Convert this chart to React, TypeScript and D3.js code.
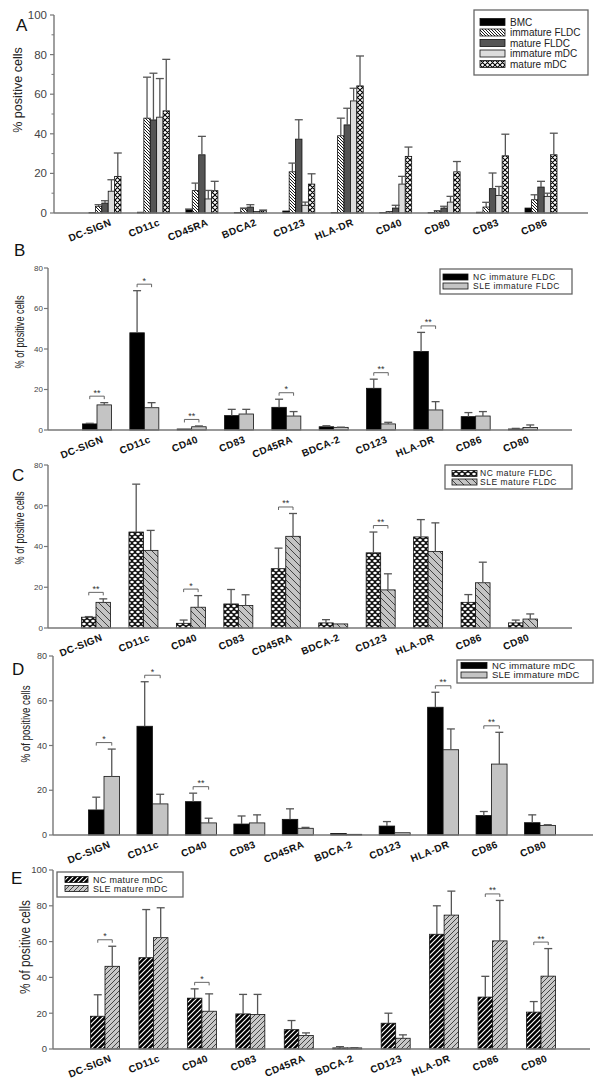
import React from 'react';
import * as d3 from 'd3';

const FONT = '"Liberation Sans", Arial, Helvetica, sans-serif';

// ---------------- Panel A data ----------------
const catsA = ['DC-SIGN', 'CD11c', 'CD45RA', 'BDCA2', 'CD123', 'HLA-DR', 'CD40', 'CD80', 'CD83', 'CD86'];
const seriesNamesA = ['BMC', 'immature FLDC', 'mature FLDC', 'immature mDC', 'mature mDC'];
const bmcMean = [0.3, 0.4, 1.7, 0.3, 1.0, 0.3, 0.3, 0.3, 0.4, 2.5];
const bmcUpper = [0.3, 0.4, 2.0, 0.3, 1.0, 0.3, 0.3, 0.3, 0.4, 2.5];
const immFldcMean = [3.4, 47.9, 11.3, 2.2, 20.8, 39.0, 0.7, 1.0, 3.0, 6.7];
const immFldcUpper = [4.2, 68.6, 15.1, 2.5, 25.2, 47.9, 0.7, 1.2, 5.4, 9.2];
const matFldcMean = [5.0, 47.0, 29.4, 3.0, 37.3, 44.5, 2.5, 2.5, 12.3, 13.1];
const matFldcUpper = [6.2, 70.6, 38.7, 4.2, 47.1, 52.9, 3.9, 3.4, 20.2, 16.0];
const immMdcMean = [11.0, 48.4, 7.1, 0.8, 3.9, 56.6, 14.6, 5.5, 8.9, 8.4];
const immMdcUpper = [16.8, 67.9, 11.4, 0.8, 5.5, 63.0, 18.5, 8.4, 13.4, 10.0];
const matMdcMean = [18.5, 51.6, 11.3, 1.2, 14.6, 64.2, 28.6, 20.8, 28.9, 29.4];
const matMdcUpper = [30.3, 77.6, 16.0, 1.5, 19.8, 79.3, 33.3, 26.0, 39.8, 40.3];

// ---------------- Panels B-E data ----------------
const catsBE = ['DC-SIGN', 'CD11c', 'CD40', 'CD83', 'CD45RA', 'BDCA-2', 'CD123', 'HLA-DR', 'CD86', 'CD80'];

const seriesNamesB = ['NC immature FLDC', 'SLE immature FLDC'];
const bNcMean = [3.0, 48.0, 0.5, 7.1, 11.2, 1.6, 20.6, 38.8, 6.6, 0.5];
const bNcUpper = [3.3, 68.8, 0.5, 10.2, 15.2, 2.1, 25.1, 48.2, 8.6, 0.8];
const bSleMean = [12.4, 11.0, 1.6, 7.9, 6.9, 1.3, 3.0, 9.9, 6.9, 1.2];
const bSleUpper = [13.5, 13.5, 2.0, 10.2, 9.1, 1.4, 3.8, 14.0, 9.1, 2.5];
const bSig = [['DC-SIGN', '**'], ['CD11c', '*'], ['CD40', '**'], ['CD45RA', '*'], ['CD123', '**'], ['HLA-DR', '**']];

const seriesNamesC = ['NC mature FLDC', 'SLE mature FLDC'];
const cNcMean = [5.3, 47.1, 2.3, 11.8, 29.1, 2.5, 36.9, 44.7, 12.6, 2.5];
const cNcUpper = [5.6, 70.6, 3.9, 18.9, 39.2, 4.1, 47.1, 53.2, 16.4, 3.9];
const cSleMean = [12.6, 38.1, 10.2, 11.0, 45.0, 2.0, 18.7, 37.6, 22.2, 4.4];
const cSleUpper = [14.3, 47.9, 15.9, 16.3, 56.2, 2.0, 26.6, 51.6, 32.3, 6.9];
const cSig = [['DC-SIGN', '**'], ['CD40', '*'], ['CD45RA', '**'], ['CD123', '**']];

const seriesNamesD = ['NC immature mDC', 'SLE immature mDC'];
const dNcMean = [11.2, 48.6, 14.9, 4.9, 7.0, 0.7, 4.0, 57.1, 8.7, 5.5];
const dNcUpper = [16.9, 68.5, 18.7, 8.5, 11.7, 0.7, 6.0, 63.8, 10.5, 9.0];
const dSleMean = [26.2, 13.9, 5.4, 5.4, 3.0, 0.3, 1.0, 38.1, 31.7, 4.3];
const dSleUpper = [38.4, 18.2, 7.5, 9.0, 3.4, 0.3, 1.0, 47.4, 45.9, 4.6];
const dSig = [['DC-SIGN', '*'], ['CD11c', '*'], ['CD40', '**'], ['HLA-DR', '**'], ['CD86', '**']];

const seriesNamesE = ['NC mature mDC', 'SLE mature mDC'];
const eNcMean = [18.3, 51.0, 28.4, 19.6, 10.8, 0.6, 14.4, 64.1, 29.0, 20.6];
const eNcUpper = [30.3, 77.9, 33.6, 30.5, 15.9, 1.3, 20.0, 80.0, 40.6, 26.5];
const eSleMean = [46.2, 62.2, 21.1, 19.3, 7.5, 0.6, 6.0, 74.8, 60.4, 40.7];
const eSleUpper = [57.4, 78.9, 30.8, 30.5, 9.0, 0.7, 7.9, 88.2, 83.0, 56.1];
const eSig = [['DC-SIGN', '*'], ['CD40', '*'], ['CD86', '**'], ['CD80', '**']];

const ticks100 = [0, 20, 40, 60, 80, 100];
const ticks80 = [0, 20, 40, 60, 80];

type Series = { name: string; mean: number[]; upper: number[]; fill: string };

type PanelCfg = {
  letter: string;
  letterX: number;
  letterY: number;
  cats: string[];
  series: Series[];
  yMax: number;
  ticks: number[];
  minor?: boolean;
  y0: number;
  yTop: number;
  axisX: number;
  axisEnd: number;
  c0: number;
  c1: number;
  groupW: number;
  capW: number;
  ylabel: string;
  ylabelX: number;
  ylabelY: number;
  ylabelSize: number;
  ylabelLen?: number;
  tickFont: number;
  tickGap: number;
  sig: string[][];
  legend: { x: number; y: number; w: number; h: number; sx: number; sw: number; sh: number; tx: number; row0: number; rowStep: number; font: number; ls: number };
};

function Panel({ cfg }: { cfg: PanelCfg }) {
  const y = d3.scaleLinear().domain([0, cfg.yMax]).range([cfg.y0, cfg.yTop]);
  const x = d3.scalePoint<string>().domain(cfg.cats).range([cfg.c0, cfg.c1]);
  const sub = d3
    .scaleBand<string>()
    .domain(cfg.series.map((s) => s.name))
    .range([-cfg.groupW / 2, cfg.groupW / 2]);
  const bw = sub.bandwidth();
  const minorTicks = cfg.minor ? d3.range(0, cfg.yMax + 0.01, 10).filter((v) => v % 20 !== 0) : [];

  return (
    <g>
      <text x={cfg.letterX} y={cfg.letterY} fontSize={17} fontFamily={FONT} fill="#111">
        {cfg.letter}
      </text>
      {/* bars */}
      {cfg.series.map((s) =>
        cfg.cats.map((c, i) => {
          const bx = (x(c) as number) + (sub(s.name) as number);
          const top = y(s.mean[i]);
          return (
            <rect
              key={s.name + c}
              x={bx}
              y={top}
              width={bw}
              height={Math.max(0.6, cfg.y0 - top)}
              fill={s.fill}
              stroke="#111"
              strokeWidth={0.8}
            />
          );
        })
      )}
      {/* error bars */}
      {cfg.series.map((s) =>
        cfg.cats.map((c, i) => {
          if (s.upper[i] - s.mean[i] < 0.05) return null;
          const cx = (x(c) as number) + (sub(s.name) as number) + bw / 2;
          const t = y(s.upper[i]);
          return (
            <g key={'e' + s.name + c} stroke="#555" strokeWidth={1.3}>
              <line x1={cx} x2={cx} y1={y(s.mean[i])} y2={t} />
              <line x1={cx - cfg.capW / 2} x2={cx + cfg.capW / 2} y1={t} y2={t} />
            </g>
          );
        })
      )}
      {/* significance brackets */}
      {cfg.sig.map(([c, label]) => {
        const i = cfg.cats.indexOf(c);
        const s0 = cfg.series[0];
        const s1 = cfg.series[1];
        const x1 = (x(c) as number) + (sub(s0.name) as number) + bw / 2;
        const x2 = (x(c) as number) + (sub(s1.name) as number) + bw / 2;
        const by = y(Math.max(s0.upper[i], s1.upper[i])) - 6.5;
        return (
          <g key={'s' + c}>
            <path d={`M${x1},${by + 3}V${by}H${x2}V${by + 3}`} fill="none" stroke="#555" strokeWidth={0.9} />
            <text x={(x1 + x2) / 2} y={by - 0.5} fontSize={9} fontFamily={FONT} textAnchor="middle" fill="#333">
              {label}
            </text>
          </g>
        );
      })}
      {/* axes */}
      <line x1={cfg.axisX} x2={cfg.axisEnd} y1={cfg.y0} y2={cfg.y0} stroke="#777" strokeWidth={1.4} />
      <line x1={cfg.axisX} x2={cfg.axisX} y1={cfg.y0} y2={cfg.yTop} stroke="#777" strokeWidth={1.4} />
      {cfg.ticks.map((t) => (
        <g key={'t' + t}>
          <line x1={cfg.axisX - 4} x2={cfg.axisX} y1={y(t)} y2={y(t)} stroke="#777" strokeWidth={1.2} />
          <text
            x={cfg.axisX - cfg.tickGap}
            y={y(t)}
            dy="0.35em"
            fontSize={cfg.tickFont}
            fontFamily={FONT}
            textAnchor="end"
            fill="#444"
          >
            {t}
          </text>
        </g>
      ))}
      {minorTicks.map((t) => (
        <line key={'m' + t} x1={cfg.axisX - 2.5} x2={cfg.axisX} y1={y(t)} y2={y(t)} stroke="#777" strokeWidth={1} />
      ))}
      <text
        transform={`translate(${cfg.ylabelX},${cfg.ylabelY}) rotate(-90)`}
        fontSize={cfg.ylabelSize}
        fontFamily={FONT}
        textAnchor="middle"
        dominantBaseline="central"
        fill="#222"
        textLength={cfg.ylabelLen}
        lengthAdjust={cfg.ylabelLen ? 'spacingAndGlyphs' : undefined}
      >
        {cfg.ylabel}
      </text>
      {/* category labels */}
      {cfg.cats.map((c) => (
        <text
          key={'l' + c}
          transform={`translate(${(x(c) as number) + 7},${cfg.y0 + 12}) rotate(-22)`}
          fontSize={10}
          fontWeight="bold"
          fontFamily={FONT}
          textAnchor="end"
          letterSpacing={0.4}
          fill="#111"
        >
          {c}
        </text>
      ))}
      {/* legend */}
      <rect
        x={cfg.legend.x}
        y={cfg.legend.y}
        width={cfg.legend.w}
        height={cfg.legend.h}
        fill="#fff"
        stroke="#666"
        strokeWidth={1.3}
      />
      {cfg.series.map((s, i) => {
        const ry = cfg.legend.row0 + i * cfg.legend.rowStep;
        return (
          <g key={'lg' + s.name}>
            <rect
              x={cfg.legend.sx}
              y={ry - cfg.legend.sh / 2}
              width={cfg.legend.sw}
              height={cfg.legend.sh}
              fill={s.fill}
              stroke="#111"
              strokeWidth={0.8}
            />
            <text
              x={cfg.legend.tx}
              y={ry}
              dy="0.35em"
              fontSize={cfg.legend.font}
              fontFamily={FONT}
              letterSpacing={cfg.legend.ls}
              fill="#222"
            >
              {s.name}
            </text>
          </g>
        );
      })}
    </g>
  );
}

export default function App() {
  const panelA: PanelCfg = {
    letter: 'A', letterX: 16, letterY: 31,
    cats: catsA,
    series: [
      { name: seriesNamesA[0], mean: bmcMean, upper: bmcUpper, fill: '#000' },
      { name: seriesNamesA[1], mean: immFldcMean, upper: immFldcUpper, fill: 'url(#hatchDense)' },
      { name: seriesNamesA[2], mean: matFldcMean, upper: matFldcUpper, fill: '#555' },
      { name: seriesNamesA[3], mean: immMdcMean, upper: immMdcUpper, fill: '#dcdcdc' },
      { name: seriesNamesA[4], mean: matMdcMean, upper: matMdcUpper, fill: 'url(#xhatchA)' },
    ],
    yMax: 100, ticks: ticks100, minor: true, y0: 213, yTop: 15, axisX: 54, axisEnd: 588,
    c0: 105, c1: 541, groupW: 32, capW: 8,
    ylabel: '% positive cells', ylabelX: 18, ylabelY: 90, ylabelSize: 12.5,
    tickFont: 11.5, tickGap: 7, sig: [],
    legend: { x: 474, y: 10, w: 114, h: 65, sx: 480, sw: 25, sh: 7, tx: 510, row0: 22, rowStep: 10.5, font: 10, ls: 0 },
  };
  const panelB: PanelCfg = {
    letter: 'B', letterX: 14, letterY: 256,
    cats: catsBE,
    series: [
      { name: seriesNamesB[0], mean: bNcMean, upper: bNcUpper, fill: '#000' },
      { name: seriesNamesB[1], mean: bSleMean, upper: bSleUpper, fill: '#c4c4c4' },
    ],
    yMax: 80, ticks: ticks80, y0: 430, yTop: 268, axisX: 48, axisEnd: 572,
    c0: 97, c1: 523, groupW: 29, capW: 8,
    ylabel: '% of positive cells', ylabelX: 20, ylabelY: 332, ylabelSize: 12, ylabelLen: 73,
    tickFont: 8, tickGap: 5, sig: bSig,
    legend: { x: 440, y: 269, w: 132, h: 25, sx: 443, sw: 25, sh: 6, tx: 473, row0: 277, rowStep: 9, font: 8.5, ls: 0.5 },
  };
  const panelC: PanelCfg = {
    letter: 'C', letterX: 12, letterY: 481,
    cats: catsBE,
    series: [
      { name: seriesNamesC[0], mean: cNcMean, upper: cNcUpper, fill: 'url(#xhatchC)' },
      { name: seriesNamesC[1], mean: cSleMean, upper: cSleUpper, fill: 'url(#hatchBackGrey)' },
    ],
    yMax: 80, ticks: ticks80, y0: 628, yTop: 465, axisX: 48, axisEnd: 572,
    c0: 96, c1: 523, groupW: 29, capW: 8,
    ylabel: '% of positive cells', ylabelX: 20, ylabelY: 528, ylabelSize: 12, ylabelLen: 73,
    tickFont: 8, tickGap: 5, sig: cSig,
    legend: { x: 445, y: 465, w: 127, h: 24, sx: 452, sw: 25, sh: 6, tx: 480, row0: 473.5, rowStep: 8.5, font: 8.5, ls: 0.5 },
  };
  const panelD: PanelCfg = {
    letter: 'D', letterX: 12, letterY: 675,
    cats: catsBE,
    series: [
      { name: seriesNamesD[0], mean: dNcMean, upper: dNcUpper, fill: '#000' },
      { name: seriesNamesD[1], mean: dSleMean, upper: dSleUpper, fill: '#c4c4c4' },
    ],
    yMax: 80, ticks: ticks80, y0: 835, yTop: 656, axisX: 53, axisEnd: 593,
    c0: 104, c1: 540, groupW: 31, capW: 8,
    ylabel: '% of positive cells', ylabelX: 25, ylabelY: 724, ylabelSize: 13, ylabelLen: 77,
    tickFont: 9, tickGap: 6, sig: dSig,
    legend: { x: 457, y: 660, w: 136, h: 23, sx: 461, sw: 26, sh: 6, tx: 492, row0: 665.5, rowStep: 9.5, font: 9.5, ls: 0.2 },
  };
  const panelE: PanelCfg = {
    letter: 'E', letterX: 11, letterY: 884,
    cats: catsBE,
    series: [
      { name: seriesNamesE[0], mean: eNcMean, upper: eNcUpper, fill: 'url(#slashBlack)' },
      { name: seriesNamesE[1], mean: eSleMean, upper: eSleUpper, fill: 'url(#slashGrey)' },
    ],
    yMax: 100, ticks: ticks100, y0: 1049, yTop: 870, axisX: 53, axisEnd: 590,
    c0: 105, c1: 541, groupW: 29, capW: 8,
    ylabel: '% of positive cells', ylabelX: 25, ylabelY: 947, ylabelSize: 14, ylabelLen: 94,
    tickFont: 9.5, tickGap: 6, sig: eSig,
    legend: { x: 57, y: 872, w: 126, h: 25, sx: 65, sw: 23, sh: 6, tx: 93, row0: 879.5, rowStep: 9, font: 9, ls: 0.3 },
  };

  return (
    <svg
      width={600}
      height={1082}
      viewBox="0 0 600 1082"
      style={{ position: 'absolute', left: 0, top: 0, background: '#fff' }}
    >
      <defs>
        <pattern id="hatchDense" patternUnits="userSpaceOnUse" width={3} height={3}>
          <rect width={3} height={3} fill="#fff" />
          <path d="M0,0L3,3M-1,2L1,4M2,-1L4,1" stroke="#000" strokeWidth={0.9} />
        </pattern>
        <pattern id="xhatchA" patternUnits="userSpaceOnUse" width={5} height={5}>
          <rect width={5} height={5} fill="#fff" />
          <path d="M0,0L5,5M-1,4L1,6M4,-1L6,1M0,5L5,0M-1,1L1,-1M4,6L6,4" stroke="#000" strokeWidth={1.1} />
        </pattern>
        <pattern id="xhatchC" patternUnits="userSpaceOnUse" width={6} height={6}>
          <rect width={6} height={6} fill="#111" />
          <ellipse cx={3} cy={3} rx={1.8} ry={1.3} fill="#fff" />
          <ellipse cx={0} cy={0} rx={1.8} ry={1.3} fill="#fff" />
          <ellipse cx={6} cy={0} rx={1.8} ry={1.3} fill="#fff" />
          <ellipse cx={0} cy={6} rx={1.8} ry={1.3} fill="#fff" />
          <ellipse cx={6} cy={6} rx={1.8} ry={1.3} fill="#fff" />
        </pattern>
        <pattern id="hatchBackGrey" patternUnits="userSpaceOnUse" width={7} height={7}>
          <rect width={7} height={7} fill="#c4c4c4" />
          <path d="M0,0L7,7M-1,6L1,8M6,-1L8,1" stroke="#222" strokeWidth={0.8} />
        </pattern>
        <pattern id="slashBlack" patternUnits="userSpaceOnUse" width={5} height={5}>
          <rect width={5} height={5} fill="#000" />
          <path d="M0,5L5,0M-1,1L1,-1M4,6L6,4" stroke="#fff" strokeWidth={1.1} />
        </pattern>
        <pattern id="slashGrey" patternUnits="userSpaceOnUse" width={5} height={5}>
          <rect width={5} height={5} fill="#c8c8c8" />
          <path d="M0,5L5,0M-1,1L1,-1M4,6L6,4" stroke="#222" strokeWidth={0.8} />
        </pattern>
      </defs>
      <Panel cfg={panelA} />
      <Panel cfg={panelB} />
      <Panel cfg={panelC} />
      <Panel cfg={panelD} />
      <Panel cfg={panelE} />
    </svg>
  );
}
